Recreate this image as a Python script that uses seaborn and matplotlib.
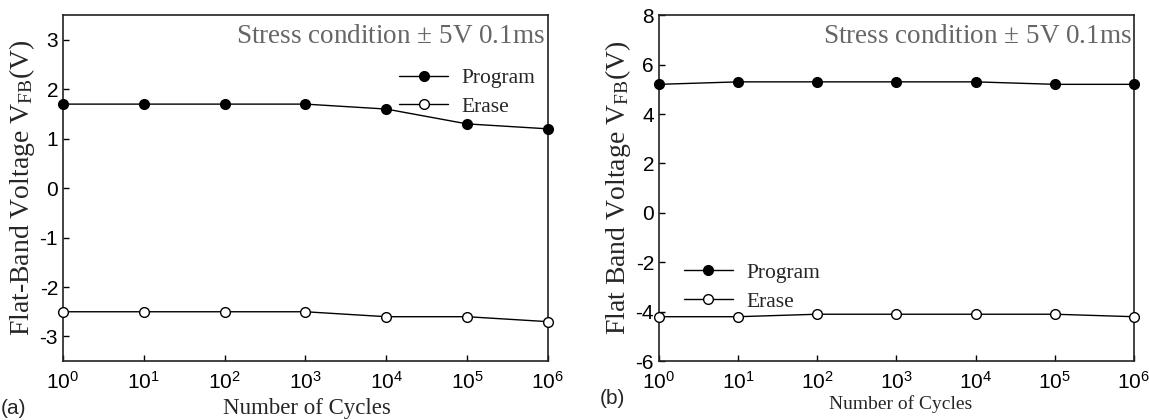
import matplotlib
matplotlib.use("Agg")
import matplotlib.pyplot as plt
import seaborn as sns
import pandas as pd
from matplotlib.ticker import NullLocator, FixedLocator

sns.set_theme(style="white")
plt.rcParams['font.family'] = ['Liberation Sans', 'DejaVu Sans']
plt.rcParams['mathtext.fontset'] = 'custom'
plt.rcParams['mathtext.rm'] = 'Liberation Serif'
plt.rcParams['mathtext.it'] = 'Liberation Serif'

cycles = [1, 10, 100, 1000, 10000, 100000, 1000000]
prog_a = [1.7, 1.7, 1.7, 1.7, 1.6, 1.3, 1.2]
erase_a = [-2.5, -2.5, -2.5, -2.5, -2.6, -2.6, -2.7]
prog_b = [5.2, 5.3, 5.3, 5.3, 5.3, 5.2, 5.2]
erase_b = [-4.2, -4.2, -4.1, -4.1, -4.1, -4.1, -4.2]
xtick_labels = [r'$\mathregular{10^{%d}}$' % i for i in range(7)]
series_names = ["Program", "Erase"]

fig = plt.figure(figsize=(11.49, 4.2), dpi=100)
ax_a = fig.add_axes([0.0548, 0.140, 0.422, 0.824])
ax_b = fig.add_axes([0.5735, 0.140, 0.4134, 0.824])

serif = 'Liberation Serif'

def draw(ax, prog, erase, ylim, yticks, ylabel, legend_loc, legend_anchor):
    df = pd.DataFrame({"cycles": cycles * 2,
                       "v": prog + erase,
                       "s": [series_names[0]] * 7 + [series_names[1]] * 7})
    for name, fc in zip(series_names, ["black", "white"]):
        sub = df[df.s == name]
        sns.lineplot(data=sub, x="cycles", y="v", ax=ax, color="black",
                     marker="o", markersize=7, markerfacecolor=fc,
                     markeredgecolor="black", markeredgewidth=1.0,
                     linewidth=1.0, label=name, clip_on=False, zorder=3)
    ax.set_xscale("log")
    ax.set_xlim(1, 1e6)
    ax.set_ylim(*ylim)
    ax.xaxis.set_major_locator(FixedLocator(cycles))
    ax.xaxis.set_minor_locator(NullLocator())
    ax.set_xticks(cycles)
    ax.set_xticklabels(xtick_labels)
    ax.set_yticks(yticks)
    ax.set_yticklabels([str(t) for t in yticks])
    ax.tick_params(axis="both", which="major", direction="in", length=4,
                   width=1, labelsize=15, colors="black", bottom=True, left=True,
                   top=False, right=False)
    ax.tick_params(axis="x", pad=7)
    for sp in ax.spines.values():
        sp.set_color("#222222")
        sp.set_linewidth(1.2)
    ax.set_xlabel("")
    ax.set_ylabel(ylabel, fontsize=20, family=serif)
    ax.text(0.995, 0.975, r"Stress condition $\pm$ 5V 0.1ms", transform=ax.transAxes,
            ha="right", va="top", fontsize=19.5, color="#666666", family=serif)
    ax.legend(loc=legend_loc, bbox_to_anchor=legend_anchor, frameon=False,
              prop={"family": serif, "size": 15.5}, handlelength=2.3,
              handletextpad=0.6, labelspacing=0.4, borderpad=0.2)

draw(ax_a, prog_a, erase_a, (-3.5, 3.5), [-3, -2, -1, 0, 1, 2, 3],
     r"Flat-Band Voltage V$_{\mathregular{FB}}$(V)", "upper right", (1.005, 0.89))
draw(ax_b, prog_b, erase_b, (-6, 8), [-6, -4, -2, 0, 2, 4, 6, 8],
     r"Flat Band Voltage V$_{\mathregular{FB}}$(V)", "lower left", (0.02, 0.10))

ax_a.yaxis.labelpad = 2
ax_b.yaxis.labelpad = 2

fig.text(0.001, 0.028, "(a)", fontsize=15, ha="left", va="center")
fig.text(0.267, 0.028, "Number of Cycles", fontsize=16.5, ha="center", va="center", family=serif)
fig.text(0.522, 0.05, "(b)", fontsize=15, ha="left", va="center")
fig.text(0.784, 0.038, "Number of Cycles", fontsize=14, ha="center", va="center", family=serif)

fig.savefig("out.png", dpi=100)
